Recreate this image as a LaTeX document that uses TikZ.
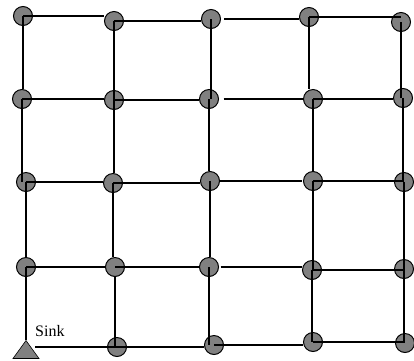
\documentclass[tikz,border=0pt]{standalone}
\usepackage{fontspec}
\setmainfont{Liberation Serif}
\usetikzlibrary{shapes.geometric}
\begin{document}
\begin{tikzpicture}[x=1pt, y=-1pt,
		vertex/.style={circle, draw, fill=gray, line width=1pt, minimum size=19pt, inner sep=0pt},
		sinkshape/.style={isosceles triangle, shape border rotate=90, isosceles triangle apex angle=72,
				isosceles triangle stretches, minimum width=26pt, minimum height=18pt,
				draw, fill=gray, line width=0.6pt, inner sep=0pt},
		edge/.style={line width=2.5pt}]

	\useasboundingbox (0,0) rectangle (414,360);

	% Nodos de la malla
	\foreach \i/\x/\y in {11/23/16, 12/114/21, 13/211/19, 14/309/17, 15/401/22,
			21/22/99, 22/114/100, 23/209/99, 24/313/99, 25/403/98,
			31/26/182, 32/113/183, 33/210/181, 34/313/181, 35/404/182,
			41/26/267, 42/115/267, 43/209/267, 44/312/270, 45/404/269,
			52/117/347, 53/214/345, 54/313/342, 55/405/343} {
			\node[vertex] (v\i) at (\x,\y) {};
		}
	% Sink
	\node[sinkshape, anchor=apex] (v51) at (26,340) {};
	\node[anchor=base west, inner sep=0pt, font=\fontsize{16}{18}\selectfont] (sinklabel) at (35,336) {Sink};

	% Aristas horizontales
	\draw[edge] (v11.center) -- (v11.center -| v12.west); \draw[edge] (v12.center) -- (v12.center -| v13.west); \draw[edge, shorten <=3pt] (v13.east) -- (v13.east -| v14.west); \draw[edge] (v14.center) -- (v14.center -| v15.center);
	\draw[edge] (v21.center) -- (v21.center -| v22.west); \draw[edge] (v22.center) -- (v22.center -| v23.west); \draw[edge, shorten <=4.5pt] (v23.east) -- (v23.east -| v24.west); \draw[edge] (v24.center) -- (v24.center -| v25.west);
	\draw[edge] (v31.center) -- (v31.center -| v32.west); \draw[edge] (v32.center) -- (v32.center -| v33.west); \draw[edge, shorten >=1.5pt] (v33.east) -- (v33.east -| v34.west); \draw[edge] (v34.center) -- (v34.center -| v35.center);
	\draw[edge] (v41.center) -- (v41.center -| v42.west); \draw[edge] (v42.center) -- (v42.center -| v43.west); \draw[edge, shorten <=1.5pt] (v43.east) -- (v43.east -| v44.west); \draw[edge] (v44.center) -- (v44.center -| v45.center);
	\draw[edge, shorten >=9pt] (v52.center) -- (v52.center -| v51.apex); \draw[edge] (v52.center) -- (v52.center -| v53.west); \draw[edge] (v53.center) -- (v53.center -| v54.west); \draw[edge] (v54.center) -- (v54.center -| v55.center);

	% Aristas verticales
	\draw[edge] (v11.center) -- (v11.center |- v21.north); \draw[edge] (v21.center) -- (v21.center |- v31.center); \draw[edge] (v31.center) -- (v31.center |- v41.north); \draw[edge] (v41.center) -- (v51.apex);
	\draw[edge] (v12.center) -- (v12.center |- v22.center); \draw[edge] (v22.center) -- (v22.center |- v32.north); \draw[edge] (v32.center) -- (v32.center |- v42.north); \draw[edge] (v42.south) -- (v42.south |- v52.center);
	\draw[edge] (v13.center) -- (v13.center |- v23.center); \draw[edge] (v23.center) -- (v23.center |- v33.north); \draw[edge] (v33.center) -- (v33.center |- v43.north); \draw[edge] (v43.center) -- (v43.center |- v53.center);
	\draw[edge] (v14.center) -- (v14.center |- v24.north); \draw[edge] (v24.center) -- (v24.center |- v34.north); \draw[edge] (v34.center) -- (v34.center |- v44.center); \draw[edge] (v44.center) -- (v44.center |- v54.center);
	\draw[edge] (v15.center) -- (v15.center |- v25.center); \draw[edge] (v25.center) -- (v25.center |- v35.center); \draw[edge] (v35.center) -- (v35.center |- v45.center); \draw[edge] (v45.center) -- (v45.center |- v55.center);
\end{tikzpicture}
\end{document}
